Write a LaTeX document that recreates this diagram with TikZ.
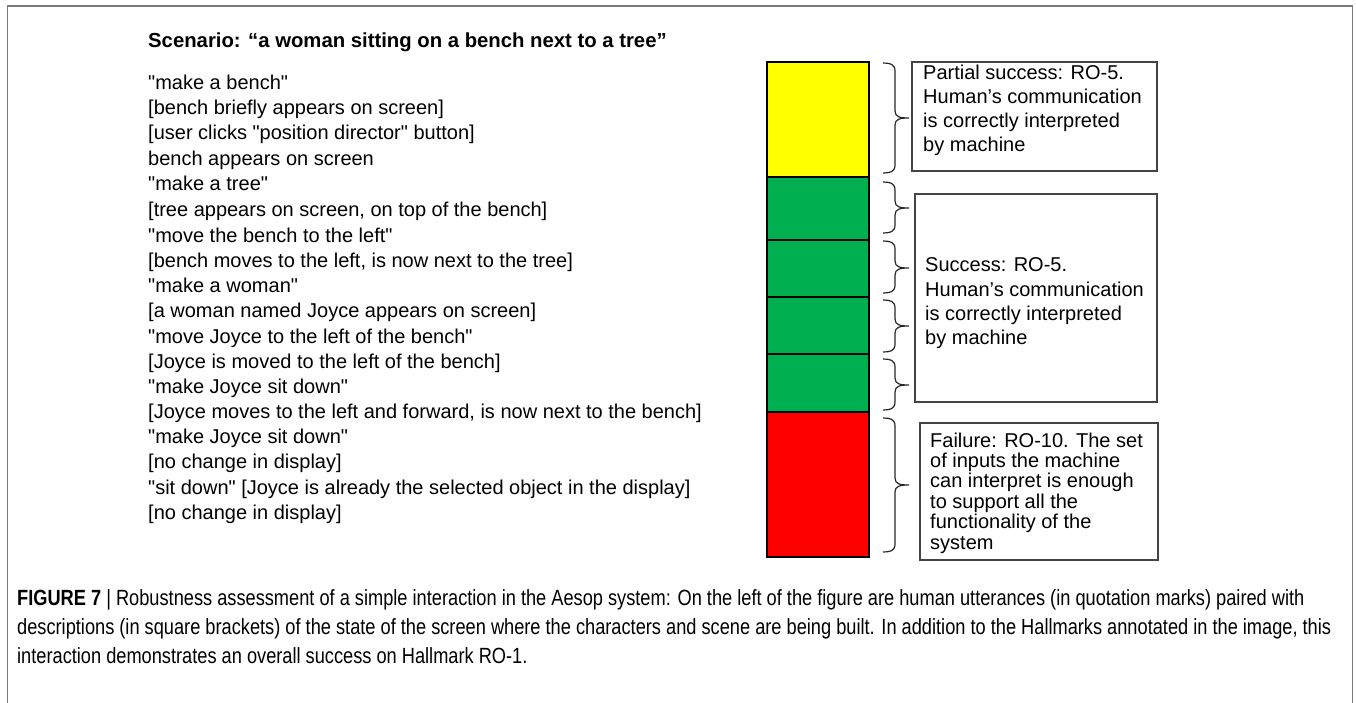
\documentclass[tikz,border=0pt]{standalone}
\usepackage{fontspec}
\setmainfont{Liberation Sans}[Ligatures=TeXOff]
\usepackage{graphicx}
\definecolor{barY}{HTML}{FFFF00}
\definecolor{barG}{HTML}{00B050}
\definecolor{barR}{HTML}{FF0000}
\definecolor{frameC}{HTML}{7A7A7A}
\definecolor{boxC}{HTML}{444444}
\newcommand{\rbr}[3]{%
  \draw[brc] (883,#1) .. controls (890,#1) and (895,#1+1) .. (895,#1+8)
    -- (895,#3-7) .. controls (895,#3-1) and (900,#3) .. (909,#3)
    .. controls (900,#3) and (895,#3+1) .. (895,#3+7)
    -- (895,#2-8) .. controls (895,#2-1) and (890,#2) .. (883,#2);}
\newcommand{\capfont}{\fontsize{22}{26}\selectfont}
\newcommand{\capA}{\textbf{FIGURE 7} | Robustness assessment of a simple interaction in the Aesop system: On the left of the figure are human utterances (in quotation marks) paired with}
\newcommand{\capB}{descriptions (in square brackets) of the state of the screen where the characters and scene are being built. In addition to the Hallmarks annotated in the image, this}
\newcommand{\capC}{interaction demonstrates an overall success on Hallmark RO-1.}
\newsavebox{\capbox}
\begin{document}
\sbox{\capbox}{\capfont\capB}
\pgfmathsetmacro{\capsc}{1314/(\wd\capbox)}
\begin{tikzpicture}[x=1pt,y=-1pt,
  lt/.style={anchor=base west, inner sep=0pt, font=\fontsize{20}{24}\selectfont},
  bt/.style={anchor=base west, inner sep=0pt, font=\fontsize{20}{24}\selectfont},
  ct/.style={anchor=base west, inner sep=0pt, font=\capfont},
  seg/.style={draw=black, line width=1.3pt},
  note/.style={draw=boxC, line width=1.2pt},
  brc/.style={draw=black!85, line width=1.2pt},
  frm/.style={draw=frameC, line width=1.6pt}]
\useasboundingbox (0,0) rectangle (1356,703);
\draw[frm] (7.5,703) -- (7.5,6) -- (1352.5,6) -- (1352.5,703);

\node[anchor=base west, inner sep=0pt, font=\fontsize{20.3}{24}\selectfont\bfseries] (title) at (148,48)
  {Scenario: “a woman sitting on a bench next to a tree”};

\node[lt] (l1) at (148,89.5) {"make a bench"};
\node[lt] (l2) at (148,114.7) {[bench briefly appears on screen]};
\node[lt] (l3) at (148,139.9) {[user clicks "position director" button]};
\node[lt] (l4) at (148,165.1) {bench appears on screen};
\node[lt] (l5) at (148,191.0) {"make a tree"};
\node[lt] (l6) at (148,216.8) {[tree appears on screen, on top of the bench]};
\node[lt] (l7) at (148,242.3) {"move the bench to the left"};
\node[lt] (l8) at (148,267.5) {[bench moves to the left, is now next to the tree]};
\node[lt] (l9) at (148,292.7) {"make a woman"};
\node[lt] (l10) at (148,317.9) {[a woman named Joyce appears on screen]};
\node[lt] (l11) at (148,343.1) {"move Joyce to the left of the bench"};
\node[lt] (l12) at (148,368.3) {[Joyce is moved to the left of the bench]};
\node[lt] (l13) at (148,393.5) {"make Joyce sit down"};
\node[lt] (l14) at (148,418.7) {[Joyce moves to the left and forward, is now next to the bench]};
\node[lt] (l15) at (148,443.8) {"make Joyce sit down"};
\node[lt] (l16) at (148,468.9) {[no change in display]};
\node[lt] (l17) at (148,494.0) {"sit down" [Joyce is already the selected object in the display]};
\node[lt] (l18) at (148,519.1) {[no change in display]};

\path[seg, fill=barY] (767,62) rectangle (869,177);
\path[seg, fill=barG] (767,177) rectangle (869,240);
\path[seg, fill=barG] (767,240) rectangle (869,297);
\path[seg, fill=barG] (767,297) rectangle (869,354);
\path[seg, fill=barG] (767,354) rectangle (869,412);
\path[seg, fill=barR] (767,412) rectangle (869,557);

\rbr{63}{173}{118}
\rbr{182}{233}{208}
\rbr{241}{293}{268}
\rbr{300}{352}{326}
\rbr{359}{410}{385}
\rbr{418}{552}{485}

\path[note] (912,62) rectangle (1157,171);
\node[bt] (p1) at (923,80) {Partial success: RO-5.};
\node[bt] (p2) at (923,104) {Human’s communication};
\node[bt] (p3) at (923,128) {is correctly interpreted};
\node[bt] (p4) at (923,152) {by machine};

\path[note] (915,194) rectangle (1157,402);
\node[bt] (s1) at (925,272) {Success: RO-5.};
\node[bt] (s2) at (925,296.2) {Human’s communication};
\node[bt] (s3) at (925,320.4) {is correctly interpreted};
\node[bt] (s4) at (925,344.6) {by machine};

\path[note] (920,423) rectangle (1158,560);
\node[bt] (f1) at (930,447) {Failure: RO-10. The set};
\node[bt] (f2) at (930,467.4) {of inputs the machine};
\node[bt] (f3) at (930,487.8) {can interpret is enough};
\node[bt] (f4) at (930,508.2) {to support all the};
\node[bt] (f5) at (930,528.6) {functionality of the};
\node[bt] (f6) at (930,549) {system};

\node[ct] (c1) at (17,605) {\scalebox{\capsc}[1]{\capA}};
\node[ct] (c2) at (17,634) {\scalebox{\capsc}[1]{\capB}};
\node[ct] (c3) at (17,663) {\scalebox{\capsc}[1]{\capC}};
\end{tikzpicture}
\end{document}
